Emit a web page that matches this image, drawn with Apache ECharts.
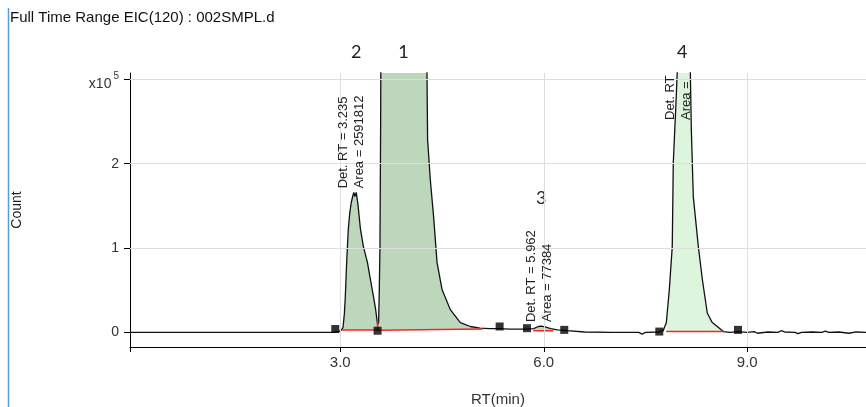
<!DOCTYPE html>
<html><head><meta charset="utf-8">
<script src="https://cdn.jsdelivr.net/npm/echarts@6/dist/echarts.min.js"></script>
<style>html,body{margin:0;padding:0;background:#fff;}#c{width:866px;height:407px;}</style>
</head><body><div id="c"></div>
<script>
// ---- data (Count in units of 10^5) ----
const traceRT = [-0.1,0.5,1.0,1.5,2.0,2.5,2.9,2.93,2.98,3.02,3.04,3.06,3.074,3.095,3.118,3.14,3.162,3.185,3.2,3.215,3.235,3.26,3.295,3.34,3.4,3.45,3.49,3.52,3.55,
  3.565,3.575,3.585,3.595,3.605,3.7,3.93,4.15,4.26,4.278,4.287,4.327,4.376,4.426,4.5,4.622,4.77,4.917,5.06,5.2,5.35,5.5,5.75,
  5.85,5.92,5.962,6.02,6.1,6.2,6.35,6.6,7.0,7.4,7.45,7.5,7.7,7.76,
  7.806,7.85,7.894,7.909,7.953,7.968,8.0,8.04,8.1,8.16,8.175,8.204,8.278,8.337,8.41,8.48,8.558,8.647,8.75,8.86,
  9.0,9.1,9.15,9.3,9.45,9.5,9.55,9.7,9.75,9.8,9.95,10.1,10.15,10.2,10.35,10.5,10.6,10.75];
const traceCount = [0,0,0,0,0,0,0,0.005,0.01,0.03,0.06,0.22,0.42,0.85,1.22,1.42,1.54,1.62,1.66,1.61,1.66,1.52,1.24,1.02,0.83,0.6,0.42,0.28,0.09,
  0.12,0.5,1.02,2.5,5.0,7.5,8.5,7.5,5.0,3.08,2.29,1.81,1.37,0.83,0.51,0.27,0.115,0.07,0.05,0.045,0.045,0.04,0.04,
  0.045,0.07,0.075,0.065,0.045,0.03,0.02,0.005,0,0,-0.02,0,0.005,0.02,
  0.115,0.5,1.02,2.01,2.8,3.1,3.7,3.9,3.7,3.1,2.4,1.61,1.02,0.63,0.23,0.12,0.07,0.01,0,0.01,
  0,0.01,-0.01,0.005,0,0.02,0.005,0,-0.015,0,0.005,0,0.015,0,0.005,-0.01,0.005,0];

const peakNumbers = ['1','2','3','4'];
const peakRT      = [3.93, 3.235, 5.962, 8.04];
const peakApex    = [8.5, 1.66, 0.075, 3.9];
const peakDetRT   = [null, '3.235', '5.962', null];
const peakArea    = [null, '2591812', '77384', null];
// integration windows and baselines
const integStart  = [3.55, 3.03, 5.845, 7.806];
const integEnd    = [5.1, 3.55, 6.14, 8.647];
const baseStartY  = [0.025, 0.03, 0.02, 0.01];
const baseEndY    = [0.04, 0.03, 0.02, 0.01];
// peak start/end markers
const markerRT    = [2.926, 3.55, 5.349, 5.752, 6.302, 7.703, 8.863];
const markerCount = [0.04, 0.02, 0.07, 0.05, 0.03, 0.01, 0.03];
const xTicks = [3, 6, 9];
const yTicks = [0, 1, 2, 3];

const FONT = '"Liberation Sans", Arial, sans-serif';
const fillColors = ['#bdd7bd', '#bdd7bd', '#bdd7bd', '#dcf5dc'];

const trace = traceRT.map((x, i) => [x, traceCount[i]]);
const series = [];
// grid lines at the tick values
series.push({
  type: 'line', data: [], silent: true, z: 0,
  markLine: {
    silent: true, symbol: 'none', label: { show: false }, animation: false,
    lineStyle: { color: '#dedede', type: 'solid', width: 1 },
    data: xTicks.map(v => ({ xAxis: v })).concat(yTicks.filter(v => v > 0).map(v => ({ yAxis: v })))
  }
});
peakNumbers.forEach((p, k) => {
  const pts = trace.filter(d => d[0] >= integStart[k] - 1e-9 && d[0] <= integEnd[k] + 1e-9);
  series.push({
    type: 'line', data: pts, symbol: 'none', silent: true, z: 1,
    lineStyle: { width: 0, opacity: 0 },
    areaStyle: { color: fillColors[k], opacity: 1, origin: (baseStartY[k] + baseEndY[k]) / 2 }
  });
});
series.push({
  type: 'line', data: trace, symbol: 'none', silent: true, z: 3,
  lineStyle: { color: '#111', width: 1.3 }
});
peakNumbers.forEach((p, k) => {
  series.push({
    type: 'line', symbol: 'none', silent: true, z: 4,
    data: [[integStart[k], baseStartY[k]], [integEnd[k], baseEndY[k]]],
    lineStyle: { color: '#ff2020', width: 1.5 }
  });
});
// drop line between peak 2 and peak 1
series.push({
  type: 'line', symbol: 'none', silent: true, z: 4,
  data: [[integEnd[1], baseEndY[1] - 0.01], [integEnd[1], traceCount[traceRT.indexOf(integEnd[1])] + 0.05]],
  lineStyle: { color: '#ff2020', width: 1.5 }
});
series.push({
  type: 'scatter', symbol: 'rect', symbolSize: 8, silent: true, z: 5,
  data: markerRT.map((x, i) => [x, markerCount[i]]),
  itemStyle: { color: '#000' }
});

const chart = echarts.init(document.getElementById('c'));
const GRID = { left: 130, right: 0, top: 73, bottom: 60 };
chart.setOption({
  animation: false,
  backgroundColor: '#fff',
  grid: Object.assign({ containLabel: false, outerBoundsMode: 'none' }, GRID),
  xAxis: {
    type: 'value', min: -0.1, max: 10.75,
    axisLine: { onZero: false, lineStyle: { color: '#000', width: 1 } },
    axisTick: { customValues: [-0.1].concat(xTicks), length: 5, lineStyle: { color: '#000' } },
    axisLabel: { customValues: xTicks, formatter: v => v.toFixed(1), margin: 8, fontSize: 15, color: '#333', fontFamily: FONT },
    splitLine: { show: false },
    name: 'RT(min)', nameLocation: 'middle', nameGap: 45,
    nameTextStyle: { fontSize: 15, color: '#333', fontFamily: FONT }
  },
  yAxis: {
    type: 'value', min: -0.173, max: 3.075,
    axisLine: { show: true, onZero: false, lineStyle: { color: '#000', width: 1 } },
    axisTick: { show: true, customValues: yTicks, length: 6, lineStyle: { color: '#000' } },
    axisLabel: {
      customValues: yTicks, margin: 11, fontSize: 14, color: '#333', fontFamily: FONT,
      formatter: v => v === 3 ? '{a|x10}{s|5}' : String(v),
      rich: {
        a: { fontSize: 14, color: '#333', fontFamily: FONT, padding: [10, 2, 0, 0] },
        s: { fontSize: 10, color: '#333', fontFamily: FONT, padding: [0, 0, 6, 0] }
      }
    },
    splitLine: { show: false },
    name: 'Count', nameLocation: 'middle', nameGap: 106, nameRotate: 90,
    nameTextStyle: { fontSize: 14, color: '#222', fontFamily: FONT }
  },
  series: series
});

// annotations positioned through the chart's scales
const px = (x, y) => chart.convertToPixel({ gridIndex: 0 }, [x, y]);
const graphics = [];
graphics.push({ type: 'line', shape: { x1: 8.5, y1: 8, x2: 8.5, y2: 407 }, style: { stroke: '#5b9bd5', lineWidth: 1.5 }, silent: true });
graphics.push({ type: 'text', x: 10, y: 18, style: { text: 'Full Time Range EIC(120) : 002SMPL.d', font: '15px ' + FONT, fill: '#111', verticalAlign: 'middle', align: 'left' }, silent: true });
peakNumbers.forEach((p, k) => {
  const a = px(peakRT[k], Math.min(peakApex[k], 3.075));
  let ny;
  if (peakDetRT[k] && peakApex[k] < 0.5) ny = a[1] - 128; else ny = GRID.top - 21;
  graphics.push({ type: 'text', x: a[0], y: ny, style: { text: p, font: '18px Lato, "Open Sans", sans-serif', fill: '#222', align: 'center', verticalAlign: 'middle' }, silent: true });
  let txt, bx, by;
  if (peakDetRT[k]) {
    txt = 'Det. RT = ' + peakDetRT[k] + '\nArea = ' + peakArea[k];
    const ap = px(peakRT[k], peakApex[k]);
    bx = ap[0] - (peakApex[k] < 0.5 ? 2 : 4.5);
    by = ap[1] - (peakApex[k] < 0.5 ? 4 : 4);
  } else if (k === 3) {
    txt = 'Det. RT\nArea =';
    bx = a[0] - 4; by = GRID.top + 47;
  } else return;
  graphics.push({ type: 'text', x: bx, y: by, rotation: Math.PI / 2, z: 10,
    style: { text: txt, font: '13px ' + FONT, fill: '#222', align: 'left', verticalAlign: 'middle', lineHeight: 16 }, silent: true });
});
chart.setOption({ graphic: graphics });
</script></body></html>
